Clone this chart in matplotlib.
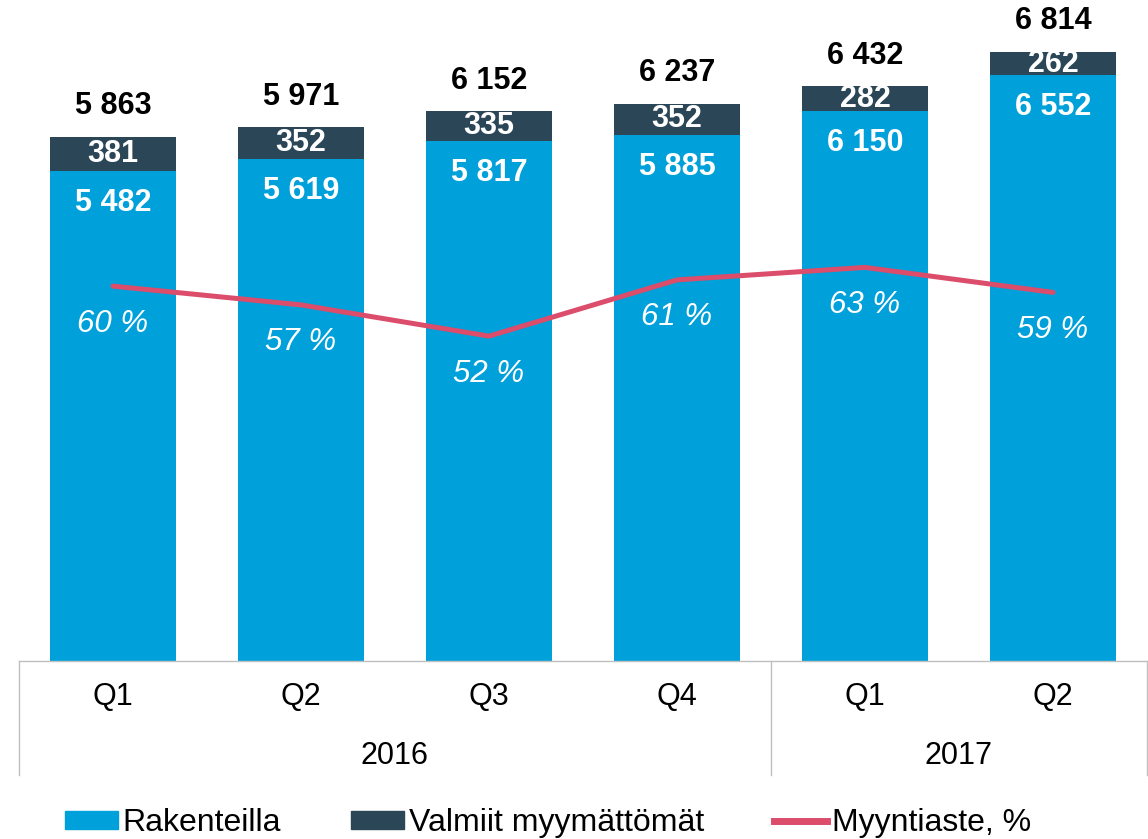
import matplotlib
matplotlib.use("Agg")
import matplotlib.pyplot as plt
from matplotlib.patches import Patch
from matplotlib.lines import Line2D

plt.rcParams['font.family'] = ['Liberation Sans', 'DejaVu Sans']

# data
quarters = ["Q1", "Q2", "Q3", "Q4", "Q1", "Q2"]
years = ["2016", "2017"]
year_spans = [(0, 3), (4, 5)]
rakenteilla = [5482, 5619, 5817, 5885, 6150, 6552]
valmiit = [381, 352, 335, 352, 282, 262]
myyntiaste = [60, 57, 52, 61, 63, 59]

C_BLUE = "#00A0DA"
C_DARK = "#2B4656"
C_LINE = "#DC4D6B"
C_GRID = "#BFBFBF"


def fmt(v):
    return f"{v:,}".replace(",", " ")


fig = plt.figure(figsize=(11.48, 8.39), dpi=100)
ax = fig.add_axes([19 / 1148, 178 / 839, 1128 / 1148, 661 / 839])
x = list(range(len(quarters)))
totals = [a + b for a, b in zip(rakenteilla, valmiit)]

ax.bar(x, rakenteilla, width=0.665, color=C_BLUE)
ax.bar(x, valmiit, bottom=rakenteilla, width=0.665, color=C_DARK)
ax.set_xlim(-0.5, len(x) - 0.5)
ax.set_ylim(0, 7395)

for xi, r, v, t in zip(x, rakenteilla, valmiit, totals):
    ax.annotate(fmt(r), (xi, r), xytext=(0, -23), textcoords="offset points",
                ha="center", va="center", color="white", fontsize=22, fontweight="bold")
    ax.annotate(fmt(v), (xi, r + v / 2), ha="center", va="center",
                color="white", fontsize=22, fontweight="bold")
    ax.annotate(fmt(t), (xi, t), xytext=(0, 22), textcoords="offset points",
                ha="center", va="center", color="black", fontsize=22, fontweight="bold")

for s in ["top", "left", "right"]:
    ax.spines[s].set_visible(False)
ax.spines["bottom"].set_color(C_GRID)
ax.spines["bottom"].set_linewidth(1)
ax.set_yticks([])
ax.set_xticks([])

# category table below the axis
trans = ax.get_xaxis_transform()
depth = -114 / 661
for xv in [-0.5, year_spans[0][1] + 0.5, len(x) - 0.5]:
    ax.plot([xv, xv], [0, depth], transform=trans, color=C_GRID, lw=1, clip_on=False)
for xi, q in zip(x, quarters):
    ax.text(xi, -36 / 661, q, transform=trans, ha="center", va="center", fontsize=22)
for (a, b), yr in zip(year_spans, years):
    ax.text((a + b) / 2, -95 / 661, yr, transform=trans, ha="center", va="center", fontsize=22)

# sales rate line
ax2 = ax.twinx()
ax2.plot(x, myyntiaste, color=C_LINE, lw=3.6, solid_capstyle="round")
ax2.set_ylim(0, 105.8)
ax2.axis("off")
for xi, p in zip(x, myyntiaste):
    ax2.annotate(f"{p} %", (xi, p), xytext=(0, -27), textcoords="offset points",
                 ha="center", va="center", color="white", fontsize=22.5, fontstyle="italic")

handles = [Patch(color=C_BLUE), Patch(color=C_DARK),
           Line2D([], [], color=C_LINE, lw=5)]
fig.legend(handles, ["Rakenteilla", "Valmiit myymättömät", "Myyntiaste, %"],
           loc="center", bbox_to_anchor=(548 / 1148, 16 / 839), ncol=3, frameon=False,
           fontsize=23, handlelength=1.65, handleheight=0.5, handletextpad=0.15,
           columnspacing=2.2, borderaxespad=0, borderpad=0)

fig.savefig("out.png", dpi=100)
